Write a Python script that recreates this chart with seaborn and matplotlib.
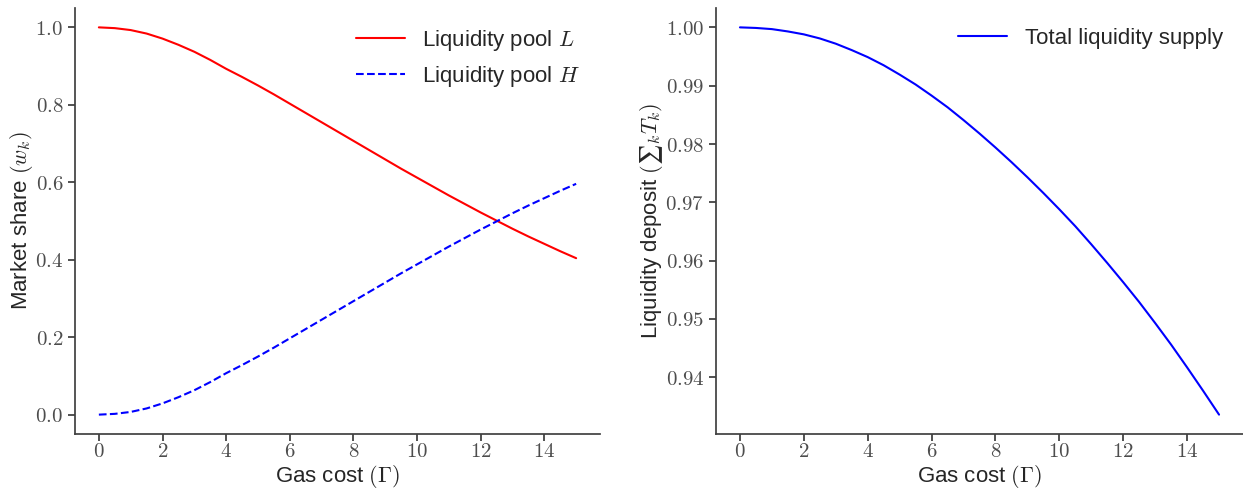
import numpy as np
import pandas as pd
import seaborn as sns
import matplotlib.pyplot as plt
from matplotlib.ticker import FuncFormatter

# gas cost grid (half steps)
gas_cost = [0.0, 0.5, 1.0, 1.5, 2.0, 2.5, 3.0, 3.5, 4.0, 4.5, 5.0, 5.5, 6.0, 6.5, 7.0, 7.5,
            8.0, 8.5, 9.0, 9.5, 10.0, 10.5, 11.0, 11.5, 12.0, 12.5, 13.0, 13.5, 14.0, 14.5, 15.0]

# market share of each pool
share_L = [1.000, 0.998, 0.993, 0.984, 0.971, 0.955, 0.937, 0.916, 0.893, 0.872, 0.850,
           0.827, 0.803, 0.779, 0.755, 0.731, 0.707, 0.683, 0.659, 0.635, 0.612,
           0.589, 0.566, 0.544, 0.522, 0.501, 0.480, 0.460, 0.441, 0.422, 0.404]
share_H = [0.000, 0.002, 0.007, 0.016, 0.029, 0.045, 0.063, 0.084, 0.107, 0.128, 0.150,
           0.173, 0.197, 0.221, 0.245, 0.269, 0.293, 0.317, 0.341, 0.365, 0.388,
           0.411, 0.434, 0.456, 0.478, 0.499, 0.520, 0.540, 0.559, 0.578, 0.596]

# total liquidity supply
total_supply = [1.0000, 0.9999, 0.9997, 0.9993, 0.9988, 0.9981, 0.9972, 0.9961, 0.9949,
                0.9935, 0.9919, 0.9902, 0.9883, 0.9863, 0.9841, 0.9818, 0.9794, 0.9769,
                0.9743, 0.9716, 0.9688, 0.9659, 0.9628, 0.9596, 0.9563, 0.9529, 0.9493,
                0.9456, 0.9417, 0.9377, 0.9336]

sns.set_theme(style="ticks")
plt.rcParams['font.family'] = ['Liberation Sans', 'DejaVu Sans']
plt.rcParams['mathtext.fontset'] = 'cm'

fontsize = 16
tick_size = 15

df = pd.DataFrame({'gas': gas_cost, 'L': share_L, 'H': share_H, 'total': total_supply})

fig = plt.figure(figsize=(12.43, 4.94), dpi=100)
ax1 = fig.add_axes([75 / 1243, 1 - 434 / 494, 525 / 1243, 426 / 494])
ax2 = fig.add_axes([716 / 1243, 1 - 434 / 494, 527 / 1243, 426 / 494])

# left: market share
sns.lineplot(data=df, x='gas', y='L', ax=ax1, color='red', linewidth=1.5,
             label='Liquidity pool $L$')
sns.lineplot(data=df, x='gas', y='H', ax=ax1, color='blue', linewidth=1.5,
             linestyle='--', label='Liquidity pool $H$')
ax1.set_ylabel('Market share $(w_k)$', fontsize=fontsize, labelpad=0)
ax1.set_yticks([0.0, 0.2, 0.4, 0.6, 0.8, 1.0])
ax1.yaxis.set_major_formatter(FuncFormatter(lambda v, p: f"${v:.1f}$"))

# right: total liquidity
sns.lineplot(data=df, x='gas', y='total', ax=ax2, color='blue', linewidth=1.5,
             label='Total liquidity supply')
ax2.set_ylabel('Liquidity deposit $(\u2211_k T_k)$', fontsize=fontsize, labelpad=0)
ax2.set_yticks([0.94, 0.95, 0.96, 0.97, 0.98, 0.99, 1.00])
ax2.yaxis.set_major_formatter(FuncFormatter(lambda v, p: f"${v:.2f}$"))

for ax in (ax1, ax2):
    ax.set_xlabel('Gas cost $(\\Gamma)$', fontsize=fontsize, labelpad=1)
    ax.set_xticks([0, 2, 4, 6, 8, 10, 12, 14])
    ax.xaxis.set_major_formatter(FuncFormatter(lambda v, p: f"${v:.0f}$"))
    ax.tick_params(labelsize=tick_size, labelcolor='0.3', color='0.2', length=5, width=1.2)
    ax.tick_params(axis='x', pad=1)
    for s in ax.spines.values():
        s.set_color('0.25')
        s.set_linewidth(1.25)
    ax.legend(frameon=False, loc='upper right', fontsize=fontsize, handlelength=2.2)
    sns.despine(ax=ax)

plt.savefig("out.png", dpi=100)
